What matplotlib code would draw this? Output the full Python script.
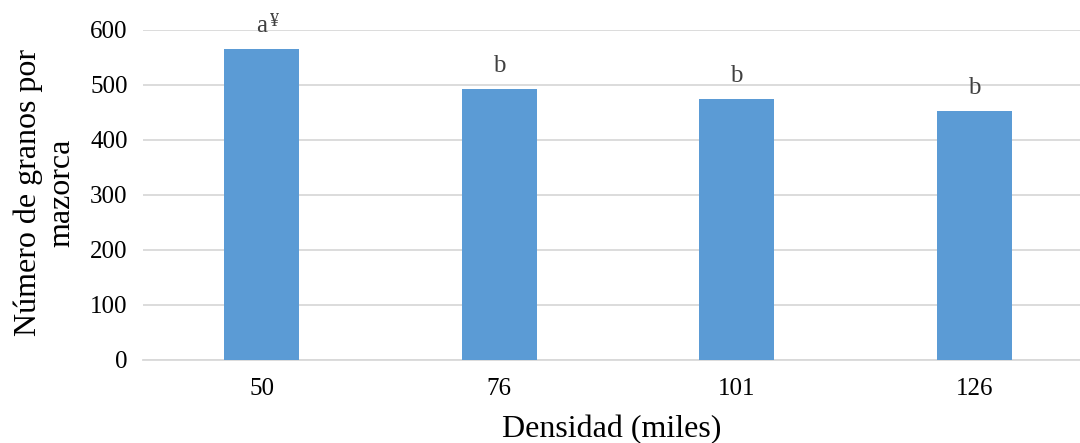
import matplotlib.pyplot as plt
import numpy as np

densidad = ["50", "76", "101", "126"]
granos = [564, 492, 474, 452]
letras = ["a", "b", "b", "b"]

plt.rcParams["font.family"] = ["Liberation Serif", "DejaVu Serif"]

fig = plt.figure(figsize=(10.8, 4.43), dpi=100)
ax = fig.add_axes([0.1324, 0.188, 0.8676, 0.745])

x = np.arange(len(densidad))
ax.bar(x, granos, width=0.316, color="#5B9BD5", zorder=3)

for xi, yi, l in zip(x, granos, letras):
    ax.text(xi, yi + 22, l, ha="center", va="bottom", fontsize=18, color="#404040")
# simbolo del primer valor
ax.text(x[0] + 0.033, granos[0] + 36, "¥", ha="left", va="bottom", fontsize=13, color="#404040")

ax.set_xlim(-0.5, 3.445)
ax.set_ylim(0, 600)
ax.set_yticks(range(0, 601, 100))
ax.set_xticks(x)
ax.set_xticklabels(densidad)
ax.grid(axis="y", color="#d9d9d9", linewidth=1.3, zorder=0)
for s in ["top", "right", "left"]:
    ax.spines[s].set_visible(False)
ax.spines["bottom"].set_color("#d9d9d9")
ax.spines["bottom"].set_linewidth(1.3)
ax.tick_params(length=0, labelsize=18)
ax.tick_params(axis="y", pad=11)
ax.tick_params(axis="x", pad=13)

ax.set_xlabel("Densidad (miles)", fontsize=23, labelpad=11)
ax.set_ylabel("Número de granos por\nmazorca", fontsize=23, linespacing=1.2)
ax.yaxis.set_label_coords(-0.0715, 0.506)

plt.savefig("out.png")
